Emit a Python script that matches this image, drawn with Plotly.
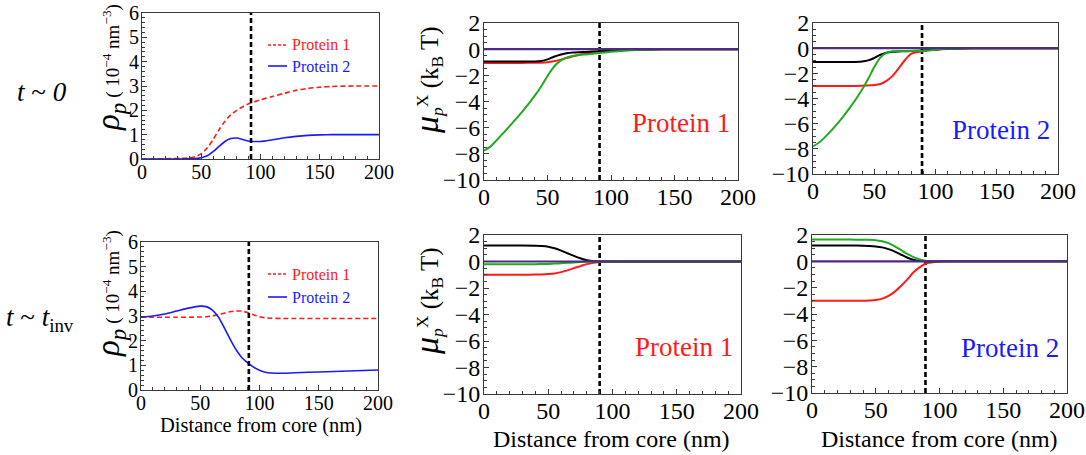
import plotly.graph_objects as go

W, H = 1086, 455
FONT = "Liberation Serif, Times New Roman, serif"

# ---------------- data ----------------
# density panels (left column)
tl_x = [0, 20, 40, 45, 50, 55, 60, 65, 70, 75, 80, 85, 90, 100, 110, 120, 130, 140, 150, 160, 180, 200]
tl_p1 = [0, 0.01, 0.05, 0.1, 0.22, 0.45, 0.8, 1.2, 1.55, 1.82, 2.0, 2.15, 2.27, 2.43, 2.57, 2.7, 2.82, 2.9, 2.95, 2.98, 3.0, 3.0]
tl_p2 = [0, 0, 0.01, 0.02, 0.05, 0.13, 0.3, 0.52, 0.72, 0.84, 0.86, 0.8, 0.74, 0.72, 0.79, 0.87, 0.93, 0.97, 0.99, 1.0, 1.0, 1.0]

bl_x = [0, 10, 20, 30, 40, 50, 55, 60, 65, 70, 75, 80, 85, 90, 95, 100, 105, 110, 120, 130, 150, 175, 200]
bl_p1 = [2.95, 2.95, 2.95, 2.95, 2.95, 2.96, 2.97, 3.0, 3.05, 3.11, 3.17, 3.2, 3.2, 3.14, 3.05, 2.97, 2.93, 2.91, 2.9, 2.9, 2.9, 2.9, 2.9]
bl_p2 = [2.95, 3.0, 3.08, 3.2, 3.32, 3.4, 3.38, 3.25, 2.98, 2.55, 2.08, 1.65, 1.32, 1.1, 0.93, 0.8, 0.72, 0.69, 0.68, 0.7, 0.73, 0.77, 0.81]

# chemical potential panels
mu_x = [0, 5, 10, 20, 30, 40, 45, 50, 55, 60, 65, 70, 75, 80, 90, 100, 110, 120, 140, 160, 200]
tm_black = [-0.95, -0.95, -0.95, -0.95, -0.95, -0.94, -0.9, -0.78, -0.58, -0.42, -0.32, -0.26, -0.23, -0.21, -0.16, -0.11, -0.06, -0.03, -0.01, 0, 0]
tm_red = [-1.05, -1.05, -1.05, -1.05, -1.05, -1.04, -1.03, -1.0, -0.93, -0.82, -0.68, -0.55, -0.43, -0.33, -0.2, -0.13, -0.07, -0.04, -0.01, 0, 0]
tm_green = [-7.75, -7.45, -6.95, -5.9, -4.8, -3.55, -2.85, -2.05, -1.35, -0.9, -0.65, -0.52, -0.45, -0.4, -0.3, -0.2, -0.12, -0.06, -0.01, 0, 0]

tr_black = [-1.1, -1.1, -1.1, -1.1, -1.1, -1.06, -0.97, -0.78, -0.52, -0.36, -0.29, -0.26, -0.24, -0.23, -0.19, -0.11, -0.05, -0.02, 0, 0, 0]
tr_red = [-3.0, -3.0, -3.0, -3.0, -3.0, -2.98, -2.96, -2.93, -2.85, -2.6, -2.2, -1.6, -0.96, -0.45, -0.22, -0.12, -0.06, -0.03, 0, 0, 0]
tr_green = [-7.8, -7.5, -7.05, -6.0, -4.75, -3.3, -2.45, -1.5, -0.75, -0.38, -0.25, -0.22, -0.22, -0.23, -0.22, -0.12, -0.05, -0.02, 0, 0, 0]

bm_black = [1.2, 1.2, 1.2, 1.2, 1.2, 1.19, 1.17, 1.12, 1.0, 0.82, 0.62, 0.42, 0.24, 0.1, 0.01, 0, 0, 0, 0, 0, 0]
bm_red = [-1.0, -1.0, -1.0, -1.0, -1.0, -0.99, -0.98, -0.95, -0.9, -0.8, -0.67, -0.5, -0.35, -0.2, -0.03, 0, 0, 0, 0, 0, 0]
bm_green = [-0.2, -0.2, -0.2, -0.2, -0.2, -0.2, -0.19, -0.18, -0.16, -0.13, -0.1, -0.07, -0.04, -0.02, 0, 0, 0, 0, 0, 0, 0]

br_black = [1.2, 1.2, 1.2, 1.2, 1.2, 1.19, 1.17, 1.13, 1.06, 0.93, 0.74, 0.5, 0.27, 0.1, 0, 0, 0, 0, 0, 0, 0]
br_red = [-3.0, -3.0, -3.0, -3.0, -3.0, -2.99, -2.97, -2.93, -2.83, -2.62, -2.3, -1.85, -1.35, -0.8, -0.15, -0.02, 0, 0, 0, 0, 0]
br_green = [1.65, 1.65, 1.65, 1.65, 1.65, 1.64, 1.63, 1.6, 1.52, 1.38, 1.14, 0.84, 0.55, 0.3, 0.02, 0, 0, 0, 0, 0, 0]

purple_x = [0, 200]
purple_y = [0, 0]

# dashed boundary position per panel (TL, TM, TR, BL, BM, BR)
boundary = [92, 91, 89, 91, 90, 89]

x_ticks = [0, 50, 100, 150, 200]
rho_ticks = [0, 1, 2, 3, 4, 5, 6]
mu_ticks = [-10, -8, -6, -4, -2, 0, 2]

series_names = ["Protein 1", "Protein 2"]
row_labels = ["<i>t</i> ~ <i>0</i>", "<i>t</i> ~ <i>t</i><sub>inv</sub>"]

# ---------------- layout helpers ----------------
RED = "#ff1a1a"
BLUE = "#1a1aff"
GREEN = "#1faa1f"
PURPLE = "#4e2a84"
FRAME = "#3a3a3a"

# pixel boxes (left, right, top, bottom)
boxes = {
    1: (142, 379, 13, 159),
    2: (484, 738, 23, 180),
    3: (813, 1058, 23, 174),
    4: (141, 378, 242, 390),
    5: (484, 741, 235, 394),
    6: (812, 1067, 235, 393),
}


def px(x):
    return x / W


def py(y):
    return 1 - y / H


def F(size, color="black"):
    return dict(family=FONT, size=size, color=color)


fig = go.Figure()


def sfx(i):
    return "" if i == 1 else str(i)


def add_line(i, x, y, color, width=2, dash=None):
    fig.add_trace(go.Scatter(
        x=x, y=y, mode="lines", xaxis="x" + sfx(i), yaxis="y" + sfx(i),
        line=dict(color=color, width=width, dash=dash, shape="spline", smoothing=0.8),
        showlegend=False, hoverinfo="skip"))


def add_boundary(i, b, ymin, ymax):
    fig.add_trace(go.Scatter(
        x=[b, b], y=[ymin, ymax], mode="lines", xaxis="x" + sfx(i), yaxis="y" + sfx(i),
        line=dict(color="black", width=2.6, dash="5px,3px"),
        showlegend=False, hoverinfo="skip"))


# left column
add_line(1, tl_x, tl_p1, RED, 1.6, "5px,3px")
add_line(1, tl_x, tl_p2, BLUE, 1.6)
add_boundary(1, boundary[0], 0, 6)
add_line(4, bl_x, bl_p1, RED, 1.6, "5px,3px")
add_line(4, bl_x, bl_p2, BLUE, 1.6)
add_boundary(4, boundary[3], 0, 6)

# mu panels
for i, (blk, rd, gr), b in [
    (2, (tm_black, tm_red, tm_green), boundary[1]),
    (3, (tr_black, tr_red, tr_green), boundary[2]),
    (5, (bm_black, bm_red, bm_green), boundary[4]),
    (6, (br_black, br_red, br_green), boundary[5]),
]:
    add_boundary(i, b, -10, 2)
    add_line(i, mu_x, rd, RED, 2)
    add_line(i, mu_x, blk, "black", 2)
    add_line(i, mu_x, gr, GREEN, 2)
    add_line(i, purple_x, purple_y, PURPLE, 2.2)

layout = dict(
    width=W, height=H, margin=dict(l=0, r=0, t=0, b=0, autoexpand=False),
    paper_bgcolor="white", plot_bgcolor="white",
    font=F(16),
    showlegend=False,
)

for i, (l, r, t, b) in boxes.items():
    left_col = i in (1, 4)
    tfs = 20 if left_col else 24
    layout["xaxis" + sfx(i)] = dict(
        domain=[px(l), px(r)], anchor="y" + sfx(i), range=[0, 200],
        tickmode="array", tickvals=x_ticks, ticks="inside", ticklen=5, tickwidth=1,
        tickcolor=FRAME, showline=True, linecolor=FRAME, linewidth=1, mirror=True,
        showgrid=False, zeroline=False, tickfont=F(tfs), ticklabelstandoff=-5,
        minor=dict(ticks="inside", ticklen=3, dtick=10, tick0=0, tickcolor=FRAME, showgrid=False),
        fixedrange=True,
    )
    if left_col:
        yr, tv, md = [0, 6], rho_ticks, 0.2
    else:
        yr, tv, md = [-10, 2], mu_ticks, 0.5
    layout["yaxis" + sfx(i)] = dict(
        domain=[py(b), py(t)], anchor="x" + sfx(i), range=yr,
        tickmode="array", tickvals=tv, ticks="inside", ticklen=5, tickwidth=1,
        tickcolor=FRAME, showline=True, linecolor=FRAME, linewidth=1, mirror=True,
        showgrid=False, zeroline=False, tickfont=F(tfs), ticklabelstandoff=-2,
        minor=dict(ticks="inside", ticklen=3, dtick=md, tick0=0, tickcolor=FRAME, showgrid=False),
        fixedrange=True,
    )

fig.update_layout(**layout)

ann = []
# row labels
ann.append(dict(x=px(42), y=py(92), text=row_labels[0], font=F(27)))
ann.append(dict(x=px(40), y=py(319), text=row_labels[1], font=F(27)))

# y titles
rho_title = ('<span style="font-size:33px"><i>ρ<sub>p</sub></i></span>'
             ' ( 10<sup>−4</sup> nm<sup>−3</sup>)')
mu_title = ('<span style="font-size:34px"><i>μ</i></span><sub><i>p</i></sub>'
            '<sup>X</sup> (k<sub>B</sub> T)')
ann.append(dict(x=px(110), y=py(68), text=rho_title, textangle=-90, font=F(19)))
ann.append(dict(x=px(110), y=py(294), text=rho_title, textangle=-90, font=F(19)))
ann.append(dict(x=px(427), y=py(80), text=mu_title, textangle=-90, font=F(25)))
ann.append(dict(x=px(427), y=py(301), text=mu_title, textangle=-90, font=F(25)))

# x titles
ann.append(dict(x=px(261), y=py(425), text="Distance from core (nm)", font=F(20.5)))
ann.append(dict(x=px(611), y=py(439), text="Distance from core (nm)", font=F(24)))
ann.append(dict(x=px(939), y=py(439), text="Distance from core (nm)", font=F(24)))

# protein labels in mu panels
for i, name, col, ycen in [(2, series_names[0], RED, 123), (3, series_names[1], BLUE, 130),
                           (5, series_names[0], RED, 347), (6, series_names[1], BLUE, 348)]:
    l, r, t, b = boxes[i]
    ann.append(dict(x=px(r - 6), y=py(ycen), xanchor="right", text=name, font=F(27, col)))

shapes = []
# legends in density panels
for i, y1, y2 in [(1, 45, 66), (4, 274, 297)]:
    for name, col, dash, yy in [(series_names[0], RED, "3px,2px", y1), (series_names[1], BLUE, None, y2)]:
        shapes.append(dict(type="line", xref="paper", yref="paper",
                           x0=px(268), x1=px(287), y0=py(yy), y1=py(yy),
                           line=dict(color=col, width=1.6, dash=dash)))
        ann.append(dict(x=px(290), y=py(yy), xanchor="left", text=name, font=F(16, col)))

for a in ann:
    a.setdefault("xref", "paper")
    a.setdefault("yref", "paper")
    a.setdefault("showarrow", False)
    a.setdefault("xanchor", "center")
    a.setdefault("yanchor", "middle")

fig.update_layout(annotations=ann, shapes=shapes)
fig.write_html(
    "out.html",
    config={"displayModeBar": False, "staticPlot": True},
    post_script="document.body.style.margin='0';document.body.style.overflow='hidden';",
)
